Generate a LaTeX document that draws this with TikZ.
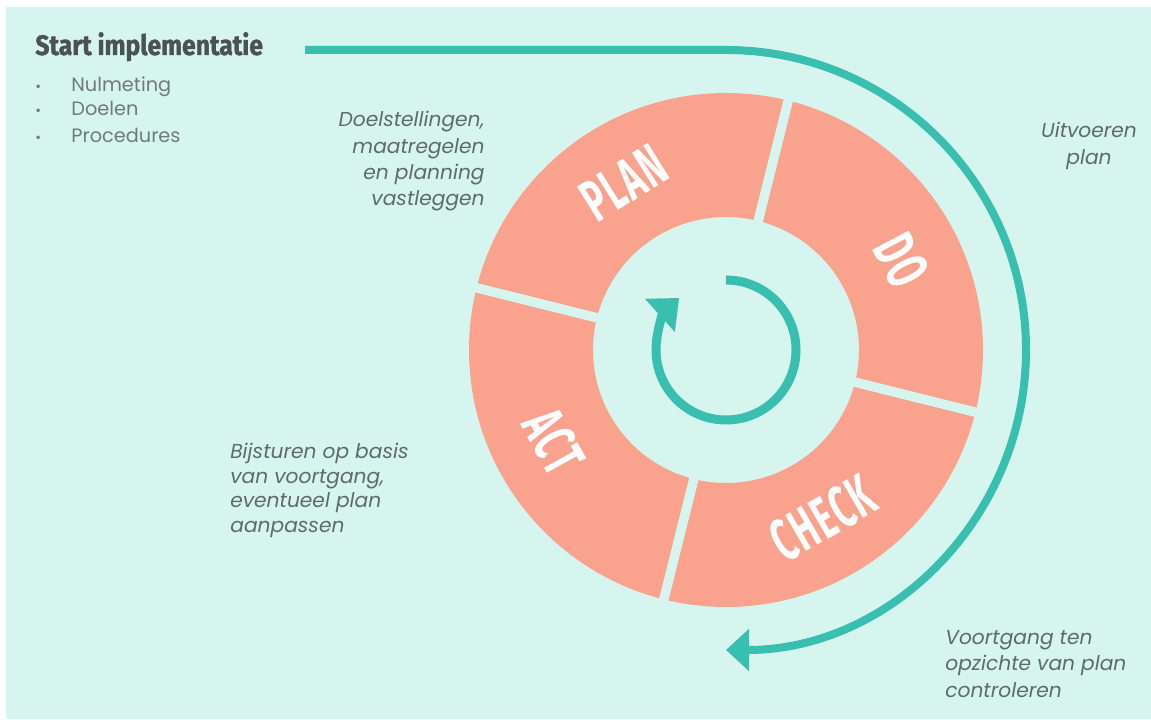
\documentclass[tikz,border=0pt]{standalone}
\usepackage{fontspec}
\setmainfont{Poppins}
\newfontfamily\headfont[FakeStretch=0.88,FakeBold=1.2]{Fira Sans}
\newfontfamily\pdcafont[FakeStretch=0.58,LetterSpace=3]{Fira Sans}
\usetikzlibrary{arrows.meta,positioning}

\definecolor{mint}{HTML}{D6F5EF}
\definecolor{salmon}{HTML}{F9A38E}
\definecolor{tealline}{HTML}{38BFAF}
\definecolor{headgray}{HTML}{4B5253}
\definecolor{itemgray}{HTML}{707B7B}
\definecolor{notegray}{HTML}{5E6B6B}

\newcommand{\itembullet}{\makebox[20.5pt][l]{\footnotesize\textbullet}}

\tikzset{
	gapline/.style={mint, line width=0.19cm},
	phase/.style={text=white, inner sep=0pt, font=\pdcafont\bfseries\fontsize{34}{34}\selectfont},
	head/.style={text=headgray, inner sep=0pt, font=\headfont\bfseries\fontsize{16}{18}\selectfont},
	item/.style={text=itemgray, inner sep=0pt, font=\fontsize{11}{13}\selectfont},
	note/.style={text=notegray, inner sep=0pt, font=\itshape\fontsize{11.5}{15}\selectfont},
	flowarrow/.style={tealline, line width=0.16cm, -{Triangle[width=0.82cm,length=0.46cm]}},
	cyclearrow/.style={tealline, line width=0.18cm, -{Triangle[width=0.86cm,length=0.52cm]}}
}

\begin{document}
\begin{tikzpicture}[x=0.02cm,y=0.02cm]
\useasboundingbox (0,0) rectangle (1151,719);
\fill[mint] (6,0) rectangle (1151,712);

\coordinate (c) at (726,369);
\fill[salmon, even odd rule] (c) circle[radius=257] (c) circle[radius=133];
\foreach \a in {76,166,256,346}
	\draw[gapline] (c) ++(\a:125) -- ++(\a:142);

\node[phase, rotate=32] (plan) at ([shift={(121.5:196)}]c) {PLAN};
\node[phase, rotate=-62] (do) at ([shift={(27:197)}]c) {DO};
\node[phase, rotate=30] (check) at ([shift={(300:194)}]c) {CHECK};
\node[phase, rotate=-61] (act) at ([shift={(208:195)}]c) {ACT};

\draw[cyclearrow] ([shift={(90:70)}]c) arc[start angle=90, end angle=-228, radius=70];

\node[head, anchor=base west] (start) at (35,664) {Start implementatie};
\node[item, anchor=base west] (nulmeting) at (35,627) {\itembullet Nulmeting};
\node[item, anchor=base west] (doelen) at (35,603) {\itembullet Doelen};
\node[item, anchor=base west] (procedures) at (35,576) {\itembullet Procedures};

\coordinate (flowstart) at (305,669);
\draw[flowarrow] (flowstart) -- ([shift={(90:300)}]c) arc[start angle=90, end angle=-90, radius=300];

\node[note, align=right, anchor=north east] (plannote) at (485,608) {Doelstellingen,\\maatregelen\\en planning\\vastleggen};
\node[note, align=center, anchor=north] (donote) at (1089,597) {Uitvoeren\\plan};
\node[note, align=left, anchor=north west, font=\itshape\fontsize{11.5}{14}\selectfont] (actnote) at (230,276) {Bijsturen op basis\\van voortgang,\\eventueel plan\\aanpassen};
\node[note, align=left, anchor=north west] (checknote) at (945,89) {Voortgang ten\\opzichte van plan\\controleren};
\end{tikzpicture}
\end{document}
